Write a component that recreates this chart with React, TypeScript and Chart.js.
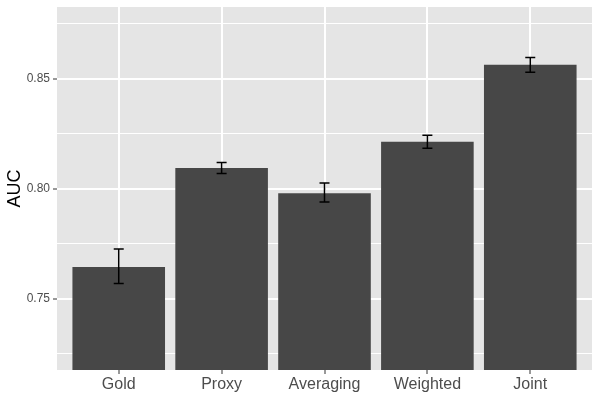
import { useEffect, useRef } from 'react'
import { Chart, registerables, Plugin } from 'chart.js'

Chart.register(...registerables)

const categories = ['Gold', 'Proxy', 'Averaging', 'Weighted', 'Joint']
const auc = [0.7645, 0.8095, 0.798, 0.8214, 0.8564]
const errLow = [0.757, 0.807, 0.7941, 0.8185, 0.853]
const errHigh = [0.7727, 0.812, 0.8027, 0.8244, 0.8598]
const yTicks = [0.725, 0.75, 0.775, 0.8, 0.825, 0.85, 0.875]
const yMajor = [0.75, 0.8, 0.85]
const yMin = 0.7177
const yMax = 0.8827

const isMajor = (v: number) => yMajor.some((m) => Math.abs(m - v) < 1e-6)

// grey panel behind the grid
const panelBg: Plugin = {
  id: 'panelBg',
  beforeDraw(chart) {
    const { ctx, chartArea } = chart
    ctx.save()
    ctx.fillStyle = '#E5E5E5'
    ctx.fillRect(chartArea.left, chartArea.top, chartArea.right - chartArea.left, chartArea.bottom - chartArea.top)
    ctx.restore()
  },
}

// error bars from errLow / errHigh
const errorBars: Plugin = {
  id: 'errorBars',
  afterDatasetsDraw(chart) {
    const { ctx } = chart
    const x = chart.scales.x
    const y = chart.scales.y
    ctx.save()
    ctx.strokeStyle = '#000000'
    ctx.lineWidth = 1.5
    categories.forEach((_, i) => {
      const px = x.getPixelForValue(i)
      const top = y.getPixelForValue(errHigh[i])
      const bot = y.getPixelForValue(errLow[i])
      ctx.beginPath()
      ctx.moveTo(px, top)
      ctx.lineTo(px, bot)
      ctx.moveTo(px - 5, top)
      ctx.lineTo(px + 5, top)
      ctx.moveTo(px - 5, bot)
      ctx.lineTo(px + 5, bot)
      ctx.stroke()
    })
    ctx.restore()
  },
}

const App = () => {
  const chartRef = useRef<HTMLCanvasElement>(null)
  const chartInstance = useRef<Chart | null>(null)

  useEffect(() => {
    document.body.style.margin = '0'
    if (!chartRef.current) return
    const ctx = chartRef.current.getContext('2d')
    if (!ctx) return

    if (chartInstance.current) chartInstance.current.destroy()

    chartInstance.current = new Chart(ctx, {
      type: 'bar',
      data: {
        datasets: [
          {
            data: categories.map((_, i) => ({ x: i, y: auc[i] })),
            backgroundColor: '#474747',
            borderWidth: 0,
            barPercentage: 0.9,
            categoryPercentage: 1,
            base: yMin,
            clip: 0,
          },
        ],
      },
      options: {
        responsive: false,
        animation: false,
        layout: { padding: { top: 7, right: 8, left: 0, bottom: 0 } },
        plugins: {
          legend: { display: false },
          tooltip: { enabled: false },
        },
        scales: {
          x: {
            type: 'linear',
            min: -0.6,
            max: 4.6,
            offset: false,
            afterBuildTicks: (scale) => {
              scale.ticks = categories.map((_, i) => ({ value: i }))
            },
            afterFit: (scale) => {
              scale.height = 30
              scale.paddingLeft = 0
              scale.paddingRight = 0
            },
            border: { display: false },
            grid: {
              offset: false,
              color: '#FFFFFF',
              lineWidth: 2,
              tickLength: 4,
              tickColor: '#333333',
              tickWidth: 1,
            },
            ticks: {
              autoSkip: false,
              maxRotation: 0,
              padding: 1,
              color: '#4D4D4D',
              font: { family: 'Liberation Sans, Arial, sans-serif', size: 16 },
              callback: (v) => categories[Number(v)] ?? '',
            },
          },
          y: {
            min: yMin,
            max: yMax,
            afterBuildTicks: (scale) => {
              scale.ticks = yTicks.map((v) => ({ value: v }))
            },
            afterFit: (scale) => {
              scale.width = 57
              scale.paddingTop = 0
              scale.paddingBottom = 0
            },
            border: { display: false },
            grid: {
              color: '#FFFFFF',
              lineWidth: (c) => (isMajor(c.tick.value) ? 2 : 1),
              tickLength: 4,
              tickColor: (c) => (isMajor(c.tick.value) ? '#333333' : 'rgba(0,0,0,0)'),
              tickWidth: 1,
            },
            ticks: {
              autoSkip: false,
              padding: 3,
              color: '#4D4D4D',
              font: { family: 'Liberation Sans, Arial, sans-serif', size: 12 },
              callback: (v) => (isMajor(Number(v)) ? Number(v).toFixed(2) : ''),
            },
            title: {
              display: true,
              text: 'AUC',
              color: '#000000',
              font: { family: 'Liberation Sans, Arial, sans-serif', size: 18 },
            },
          },
        },
      },
      plugins: [panelBg, errorBars],
    })

    return () => {
      if (chartInstance.current) {
        chartInstance.current.destroy()
        chartInstance.current = null
      }
    }
  }, [])

  return (
    <div style={{ width: 600, height: 400 }}>
      <canvas ref={chartRef} width={600} height={400}></canvas>
    </div>
  )
}

export default App
